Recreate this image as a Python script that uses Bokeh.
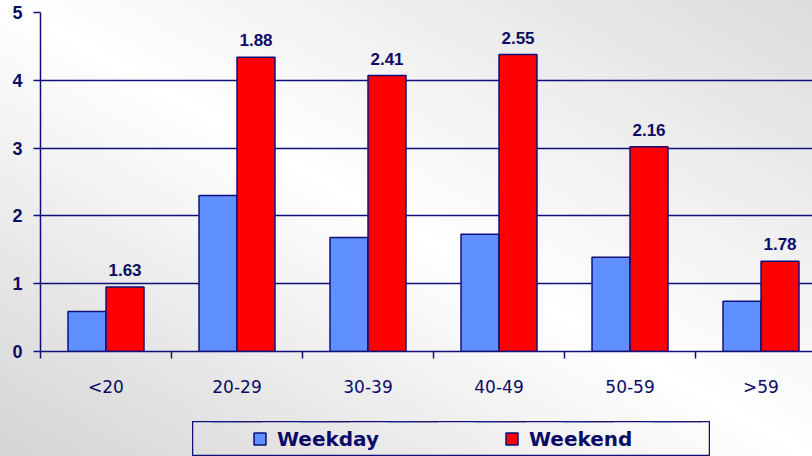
from bokeh.plotting import figure
from bokeh.layouts import column, row
from bokeh.models import Range1d, FixedTicker, Legend, LegendItem, ColumnDataSource, Spacer
from bokeh.core.properties import value
from bokeh.embed import file_html
from bokeh.resources import INLINE

categories = ["<20", "20-29", "30-39", "40-49", "50-59", ">59"]
weekday = [0.59, 2.30, 1.68, 1.73, 1.39, 0.74]
weekend = [0.95, 4.34, 4.07, 4.38, 3.02, 1.33]
ratio_labels = ["1.63", "1.88", "2.41", "2.55", "2.16", "1.78"]
series_names = ["Weekday", "Weekend"]
y_ticks = [0, 1, 2, 3, 4, 5]

NAVY = "#10107a"
TEXT = "#0b0b66"
BLUE = "#6090ff"
RED = "#ff0000"
BAR_W = 0.29

centers = [i + 0.5 for i in range(len(categories))]
bounds = [float(i) for i in range(len(categories) + 1)]

src = ColumnDataSource(dict(
    xc=centers,
    xb=[c - BAR_W / 2 for c in centers],
    xr=[c + BAR_W / 2 for c in centers],
    weekday=weekday,
    weekend=weekend,
    lab=ratio_labels,
))

p = figure(width=812, height=421, output_backend="svg", toolbar_location=None,
           x_range=Range1d(0, 5.893), y_range=Range1d(0, 5),
           min_border_left=40, min_border_right=0, min_border_top=12, min_border_bottom=70)
p.background_fill_alpha = 0
p.border_fill_alpha = 0
p.outline_line_color = None

p.vbar(x="xb", top="weekday", width=BAR_W, bottom=0, source=src,
       fill_color=BLUE, line_color=NAVY, line_width=1.5)
p.vbar(x="xr", top="weekend", width=BAR_W, bottom=0, source=src,
       fill_color=RED, line_color=NAVY, line_width=1.5)
p.text(x="xr", y="weekend", text="lab", source=src, y_offset=-11,
       text_align="center", text_baseline="bottom", text_color=TEXT,
       text_font=value("Liberation Sans"), text_font_style="bold", text_font_size="17px")

# grid
p.xgrid.grid_line_color = None
p.ygrid.ticker = FixedTicker(ticks=y_ticks)
p.ygrid.grid_line_color = NAVY
p.ygrid.grid_line_width = 1.5

# x axis
xa = p.xaxis[0]
xa.ticker = FixedTicker(ticks=centers, minor_ticks=bounds)
xa.major_label_overrides = {c: lab for c, lab in zip(centers, categories)}
xa.major_tick_out = 0
xa.major_tick_in = 0
xa.minor_tick_out = 7
xa.minor_tick_in = 0
xa.minor_tick_line_color = NAVY
xa.minor_tick_line_width = 1.5
xa.axis_line_color = NAVY
xa.axis_line_width = 1.5
xa.major_label_standoff = 18
xa.major_label_text_font = "DejaVu Sans"
xa.major_label_text_font_size = "17px"
xa.major_label_text_color = TEXT

# y axis
ya = p.yaxis[0]
ya.ticker = FixedTicker(ticks=y_ticks)
ya.major_tick_out = 7
ya.major_tick_in = 0
ya.minor_tick_out = 0
ya.minor_tick_in = 0
ya.major_tick_line_color = NAVY
ya.major_tick_line_width = 1.5
ya.axis_line_color = NAVY
ya.axis_line_width = 1.5
ya.major_label_standoff = 11
ya.major_label_text_font = "Liberation Sans"
ya.major_label_text_font_style = "bold"
ya.major_label_text_font_size = "18px"
ya.major_label_text_color = TEXT

# legend strip: its frame outline is the legend box
lf = figure(width=518, height=35, output_backend="svg", toolbar_location=None,
            x_range=Range1d(0, 5.893), y_range=Range1d(-2, -1),
            x_axis_location=None, y_axis_location=None,
            min_border_left=0, min_border_right=0, min_border_top=0, min_border_bottom=0)
lf.background_fill_alpha = 0
lf.border_fill_alpha = 0
lf.outline_line_color = NAVY
lf.outline_line_width = 1.5
lf.grid.grid_line_color = None
# same series drawn outside this strip's y range (not visible), used as legend swatches
r_wd = lf.vbar(x="xb", top="weekday", width=BAR_W, bottom=0, source=src,
               fill_color=BLUE, line_color=NAVY, line_width=1.5)
r_we = lf.vbar(x="xr", top="weekend", width=BAR_W, bottom=0, source=src,
               fill_color=RED, line_color=NAVY, line_width=1.5)

legend = Legend(items=[LegendItem(label=series_names[0], renderers=[r_wd]),
                       LegendItem(label=series_names[1], renderers=[r_we])],
                orientation="horizontal", location="left", margin=0,
                padding=60, spacing=117, label_width=110,
                glyph_width=15, glyph_height=15, label_standoff=10,
                label_text_font="DejaVu Sans", label_text_font_style="bold",
                label_text_font_size="20px", label_text_color=TEXT,
                border_line_color=NAVY, border_line_alpha=0, background_fill_alpha=0)
lf.add_layout(legend, "center")

layout = column(p, row(Spacer(width=192, height=35), lf, spacing=0), spacing=0)
layout.styles = {"background": "linear-gradient(to top right, #d4d4d4 0%, #ffffff 50%, #dcdcdc 100%)"}

open("out.html", "w").write(file_html(layout, INLINE))
